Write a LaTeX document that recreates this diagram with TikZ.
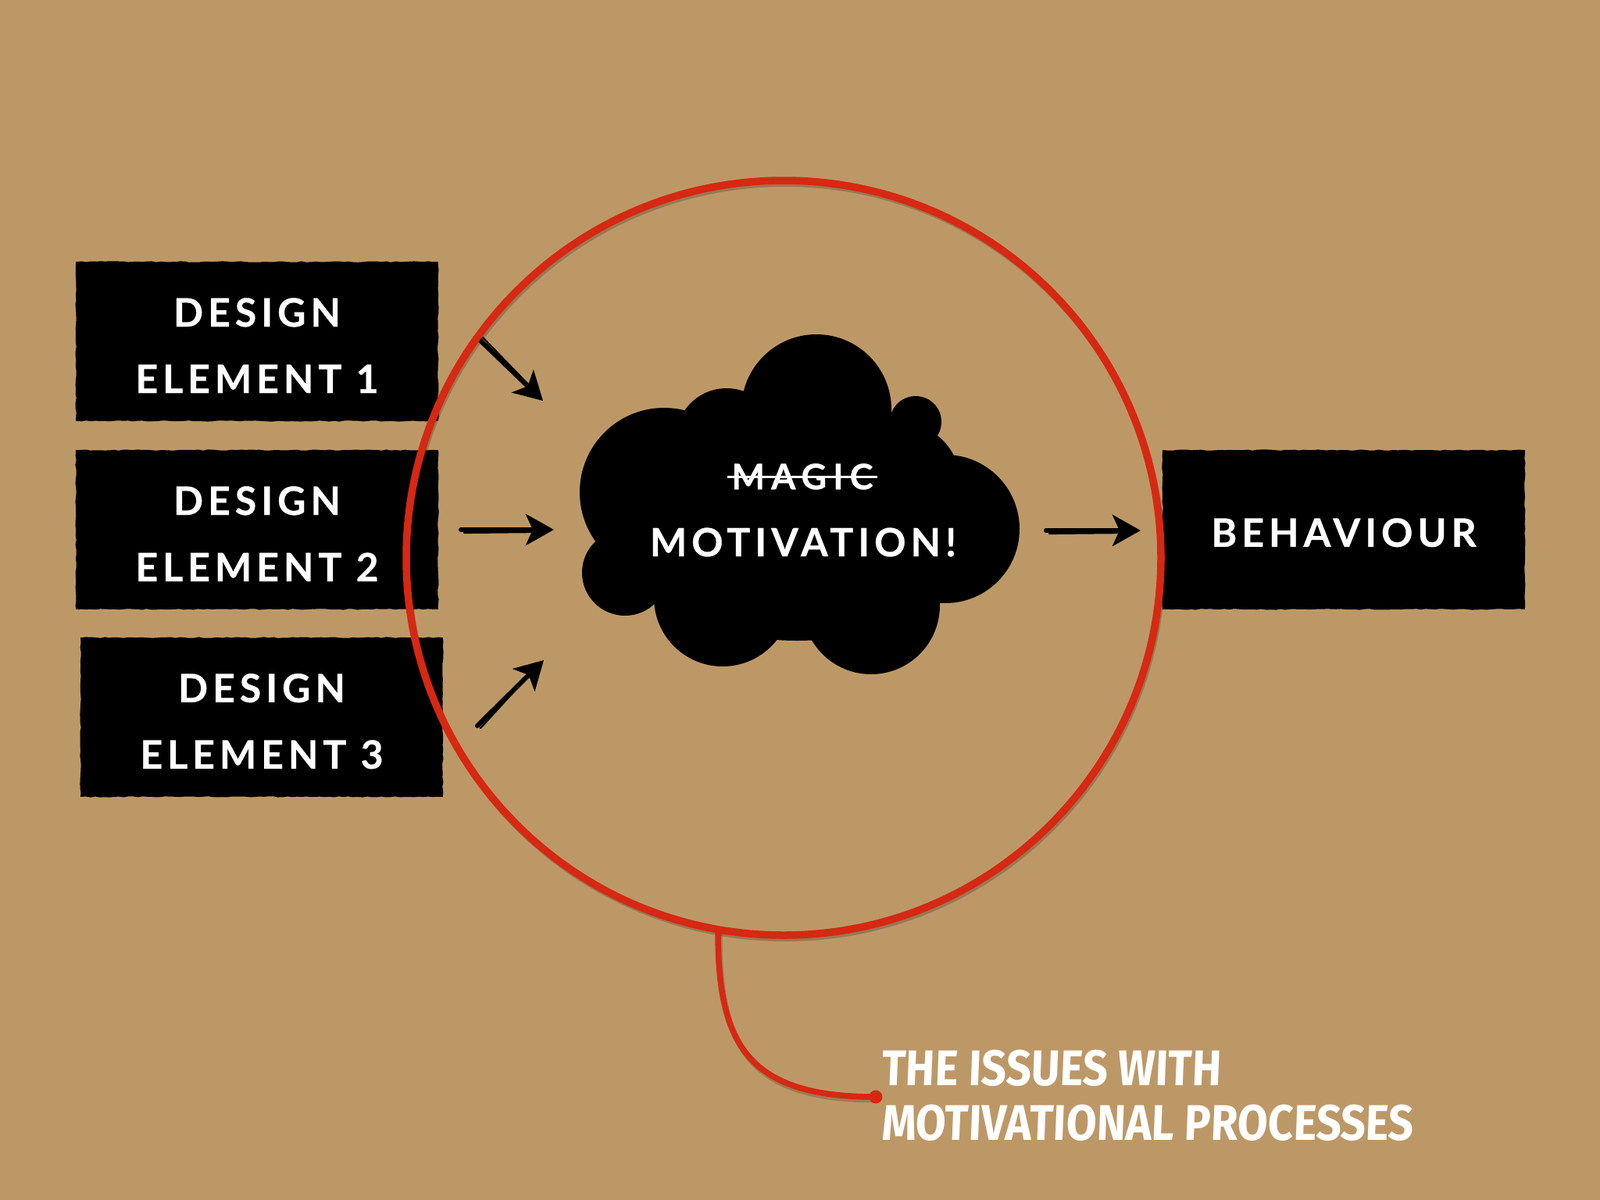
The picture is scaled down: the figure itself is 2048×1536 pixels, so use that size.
\documentclass[tikz,border=0pt]{standalone}
\usepackage{fontspec}
\usetikzlibrary{arrows.meta,decorations.pathmorphing}
\setmainfont{Lato}
\newfontfamily\boxfont[LetterSpace=12,FakeBold=0.6]{Lato}
\newfontfamily\magicfont[LetterSpace=18,FakeBold=0.6]{Lato}
\newfontfamily\comicfont[FakeStretch=0.88,FakeSlant=0.04]{Fira Sans}
\definecolor{kraft}{RGB}{189,152,103}
\definecolor{penred}{RGB}{214,40,18}
\begin{document}
\begin{tikzpicture}[x=1pt,y=-1pt,
  blk/.style={fill=black, minimum width=462pt, minimum height=202pt, inner sep=0pt,
    text=white, align=center, font=\boxfont\bfseries\fontsize{50}{85}\selectfont},
  rough/.style={draw=black, line width=1.4pt, decorate,
    decoration={random steps, segment length=6pt, amplitude=0.7pt}},
  cloudtxt/.style={text=white, inner ysep=0pt, inner xsep=5pt},
  sk/.style={draw=black, line width=6pt, line cap=round,
    -{Stealth[length=36pt,width=40pt,inset=9pt]}},
  skthin/.style={draw=black, line width=2.2pt, line cap=round},
  redline/.style={draw=penred, line width=9.5pt, line cap=round},
  comic/.style={text=white, inner sep=0pt, anchor=west,
    font=\comicfont\bfseries\fontsize{64}{70}\selectfont}]
\useasboundingbox (0,0) rectangle (2048,1536);
\fill[kraft] (0,0) rectangle (2048,1536);

% boxes
\node[blk] (d1) at (329,437) {\rule{0pt}{47pt}DESIGN\\ELEMENT 1};
\node[blk] (d2) at (329,678) {\rule{0pt}{47pt}DESIGN\\ELEMENT 2};
\node[blk] (d3) at (335,918) {\rule{0pt}{47pt}DESIGN\\ELEMENT 3};
\node[blk] (beh) at (1720,678) {\rule{0pt}{44pt}BEHAVIOUR};
\foreach \b in {d1,d2,d3,beh}
  \draw[rough] (\b.north west) rectangle (\b.south east);

% cloud
\fill[black] (1020,680) ellipse [x radius=225, y radius=140];
\fill[black] (1045,524) circle (96);
\fill[black] (1172,540) circle (33);
\fill[black] (1210,677) circle (95);
\fill[black] (850,630) circle (108);
\fill[black] (930,562) circle (65);
\fill[black] (800,733) circle (55);
\fill[black] (925,765) circle (88);
\fill[black] (1115,775) circle (88);
\fill[black] (1150,620) circle (80);

\node[cloudtxt, font=\magicfont\bfseries\fontsize{45}{50}\selectfont] (magic) at (1027,610) {MAGIC};
\draw[white, line width=3pt] (magic.west) -- (magic.east);
\node[cloudtxt, font=\boxfont\bfseries\fontsize{50}{60}\selectfont] (motiv) at (1028,694) {MOTIVATION!};

% arrows
\coordinate (a1s) at (614,435); \coordinate (a1e) at (695,513);
\coordinate (a2s) at (590,678); \coordinate (a2e) at (709,678);
\coordinate (a3s) at (611,929); \coordinate (a3e) at (696,845);
\coordinate (a4s) at (1339,679); \coordinate (a4e) at (1460,679);
\draw[sk] (a1s) -- (a1e);
\draw[skthin] ([shift={(4,-3)}]a1s) -- ([shift={(-14,-16)}]a1e);
\draw[sk] (a2s) -- (a2e);
\draw[skthin] ([shift={(4,4)}]a2s) -- ([shift={(-22,3)}]a2e);
\draw[sk] (a3s) -- (a3e);
\draw[skthin] ([shift={(4,3)}]a3s) -- ([shift={(-16,16)}]a3e);
\draw[sk] (a4s) -- (a4e);
\draw[skthin] ([shift={(4,4)}]a4s) -- ([shift={(-22,3)}]a4e);

% red ring
\node[circle, minimum size=966pt, inner sep=0pt] (ring) at (1003,714) {};
\draw[black, opacity=0.2, line width=8pt] ([shift={(2,4)}]ring.center) circle (483);
\draw[redline] (ring.center) circle (483);

% callout
\coordinate (tend) at (1121,1404);
\draw[black, opacity=0.18, line width=7pt] ([shift={(2,4)}]ring.260) .. controls (920,1345) and (962,1408) .. ([shift={(2,4)}]tend);
\draw[redline, line width=7.5pt] (ring.260) .. controls (918,1340) and (960,1404) .. (tend);
\fill[penred] (tend) circle (8.5);
\node[comic] (t1) at (1128,1367) {THE ISSUES WITH};
\node[comic] (t2) at (1128,1437) {MOTIVATIONAL PROCESSES};
\end{tikzpicture}
\end{document}
